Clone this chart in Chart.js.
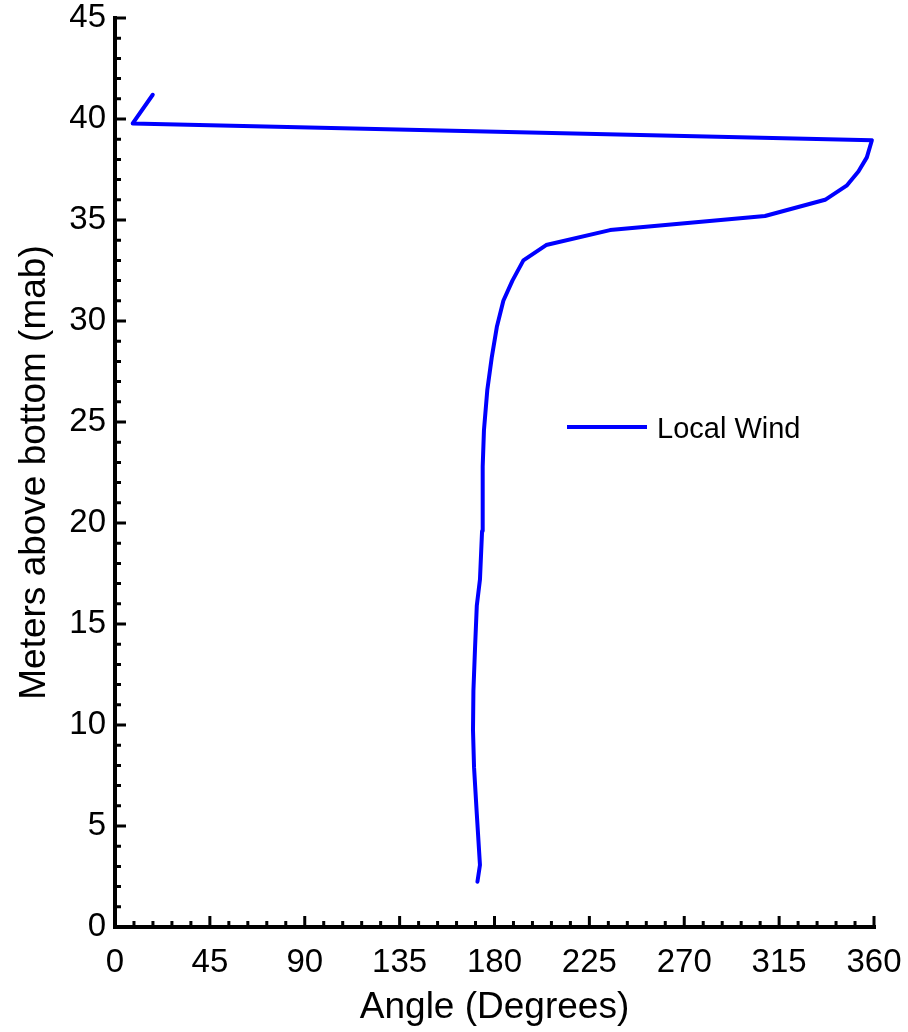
<!DOCTYPE html>
<html>
<head>
<meta charset="utf-8">
<title>Local Wind</title>
<script src="https://cdn.jsdelivr.net/npm/chart.js@4.4.1/dist/chart.umd.min.js"></script>
<style>
    html, body { margin: 0; padding: 0; background: #fff; }
    .chart-box { width: 908px; height: 1032px; }
</style>
</head>
<body>
<div class="chart-box"><canvas id="chart"></canvas></div>
<script>
// wind direction profile, bottom bin first
const heightMab = [2.24, 3.07, 5.6, 7.9, 9.75, 11.7, 13.9, 15.9, 17.2, 19.6, 21.3, 22.8, 24.6,
    26.6, 28.2, 29.7, 31.0, 32.0, 33.0, 33.76, 34.5, 35.2, 36.0, 36.7, 37.4, 38.1, 38.95, 39.78, 41.2];
const windAngle = [171.9, 173.1, 171.6, 170.3, 169.8, 170.0, 170.8, 171.6, 173.1, 174.1, 174.4, 174.4, 175.0,
    176.6, 178.7, 181.1, 184.2, 188.5, 193.7, 204.5, 234.8, 308.3, 336.8, 347.0, 352.6, 356.6, 359.0, 8.4, 17.9];
const seriesName = "Local Wind";

const angleTicks = [0, 45, 90, 135, 180, 225, 270, 315, 360];
const heightTicks = [0, 5, 10, 15, 20, 25, 30, 35, 40, 45];

const FONT = "'Liberation Sans', Arial, Helvetica, sans-serif";
Chart.defaults.font.family = FONT;
Chart.defaults.color = "#000";

const points = heightMab.map((h, i) => ({ x: windAngle[i], y: h }));

// axes with ticks pointing into the plot, plus the little legend
const inwardAxes = {
    id: "inwardAxes",
    afterDraw(chart) {
        const { ctx, chartArea: a, scales } = chart;
        const x = scales.x, y = scales.y;
        ctx.save();
        ctx.strokeStyle = "#000";
        ctx.lineWidth = 4;
        ctx.lineCap = "butt";
        ctx.beginPath();
        ctx.moveTo(a.left, a.top - 2);
        ctx.lineTo(a.left, a.bottom);
        ctx.lineTo(a.right + 2, a.bottom);
        ctx.stroke();

        ctx.lineWidth = 3;
        ctx.beginPath();
        x.ticks.forEach(t => {
            const px = x.getPixelForValue(t.value);
            const len = angleTicks.includes(t.value) ? 11 : 6;
            ctx.moveTo(px, a.bottom);
            ctx.lineTo(px, a.bottom - len);
        });
        y.ticks.forEach(t => {
            const py = y.getPixelForValue(t.value);
            const len = heightTicks.includes(t.value) ? 11 : 6;
            ctx.moveTo(a.left, py);
            ctx.lineTo(a.left + len, py);
        });
        ctx.stroke();

        const ds = chart.data.datasets[0];
        ctx.strokeStyle = ds.borderColor;
        ctx.lineWidth = ds.borderWidth;
        ctx.beginPath();
        ctx.moveTo(567, 427);
        ctx.lineTo(647, 427);
        ctx.stroke();
        ctx.fillStyle = "#000";
        ctx.font = "29px " + FONT;
        ctx.textBaseline = "middle";
        ctx.fillText(ds.label, 657, 430);
        ctx.restore();
    }
};

new Chart("chart", {
    type: "scatter",
    data: {
        datasets: [{
            label: seriesName,
            data: points,
            showLine: true,
            borderColor: "#0000ff",
            borderWidth: 4,
            borderJoinStyle: "round",
            borderCapStyle: "round",
            pointRadius: 0,
            tension: 0,
            clip: false
        }]
    },
    options: {
        responsive: true,
        maintainAspectRatio: false,
        animation: false,
        layout: { padding: { top: 18, right: 34, left: 0, bottom: 0 } },
        plugins: { legend: { display: false }, tooltip: { enabled: false } },
        scales: {
            x: {
                type: "linear",
                min: 0,
                max: 360,
                grid: { display: false, drawTicks: false },
                border: { display: false },
                ticks: {
                    stepSize: 9,
                    autoSkip: false,
                    maxRotation: 0,
                    padding: 16,
                    font: { size: 33 },
                    callback: v => angleTicks.includes(v) ? String(v) : ""
                },
                title: {
                    display: true,
                    text: "Angle (Degrees)",
                    font: { size: 37 },
                    padding: { top: 0, bottom: 2 }
                },
                afterFit(scale) {
                    scale.height = 105;
                    scale.paddingLeft = 0;
                    scale.paddingRight = 0;
                }
            },
            y: {
                type: "linear",
                min: 0,
                max: 45,
                grid: { display: false, drawTicks: false },
                border: { display: false },
                ticks: {
                    stepSize: 1,
                    autoSkip: false,
                    padding: 9,
                    font: { size: 33 },
                    callback: v => heightTicks.includes(v) ? String(v) : ""
                },
                title: {
                    display: true,
                    text: "Meters above bottom (mab)",
                    font: { size: 37 },
                    padding: { top: 13, bottom: 0 }
                },
                afterFit(scale) {
                    scale.width = 115;
                    scale.paddingTop = 0;
                    scale.paddingBottom = 0;
                }
            }
        }
    },
    plugins: [inwardAxes]
});
</script>
</body>
</html>
